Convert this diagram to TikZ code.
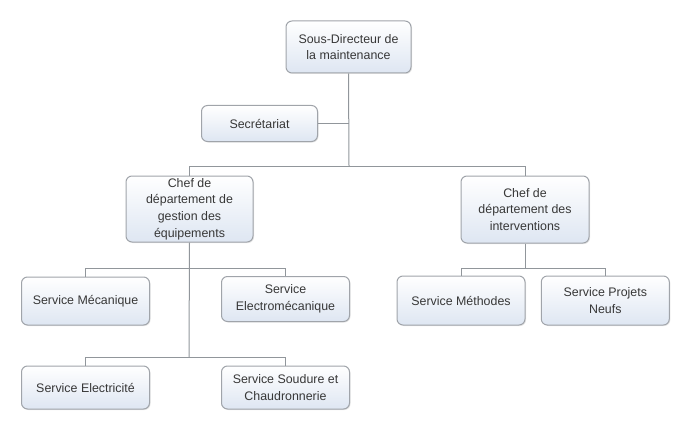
\documentclass[tikz,border=0pt]{standalone}
\usepackage{fontspec}
\setmainfont{Liberation Sans}
\usetikzlibrary{shadows}
\definecolor{boxline}{RGB}{160,164,170}
\definecolor{boxfill}{RGB}{222,230,242}
\definecolor{linkgray}{RGB}{145,150,155}
\definecolor{textgray}{RGB}{55,55,55}
\tikzset{
  orgbox/.style={draw=boxline, line width=1pt, rounded corners=6pt, top color=white,
    bottom color=boxfill, align=center, inner sep=2pt, text=textgray,
    font=\fontsize{12.4}{16.6}\selectfont,
    drop shadow={shadow xshift=1pt, shadow yshift=-1pt, opacity=0.2}},
  link/.style={draw=linkgray, line width=1pt}
}
\begin{document}
\begin{tikzpicture}[x=1pt,y=-1pt]
\useasboundingbox (0,0) rectangle (693,433);

\node[orgbox, minimum width=125pt, minimum height=52pt] (sd) at (348.5,47) {Sous-Directeur de\\la maintenance};
\node[orgbox, minimum width=116pt, minimum height=36pt] (sec) at (259.5,123.5) {Secrétariat};
\node[orgbox, minimum width=127pt, minimum height=66pt] (cg) at (189.5,209) {Chef de\\département de\\gestion des\\équipements};
\node[orgbox, minimum width=128pt, minimum height=67pt] (ci) at (525,209.5) {Chef de\\département des\\interventions};
\node[orgbox, minimum width=128pt, minimum height=48pt] (smec) at (85.5,301) {Service Mécanique};
\node[orgbox, minimum width=128pt, minimum height=45pt] (selm) at (285.5,299) {Service\\Electromécanique};
\node[orgbox, minimum width=128pt, minimum height=43pt] (sel) at (85.5,387.5) {Service Electricité};
\node[orgbox, minimum width=128pt, minimum height=43pt] (ssc) at (285.5,387.5) {Service Soudure et\\Chaudronnerie};
\node[orgbox, minimum width=128pt, minimum height=49pt] (smeth) at (461,300.5) {Service Méthodes};
\node[orgbox, minimum width=128pt, minimum height=49pt] (spn) at (605.3,300.5) {Service Projets\\Neufs};

\coordinate (top) at (349,166);
\coordinate (gtop) at (189,268);
\coordinate (gbot) at (189,357);
\coordinate (itop) at (525,268);

\path[link] (sd.south) -- (top);
\path[link] (sec.east) -- (sec.east -| sd.south);
\path[link] (top) -| (cg.north);
\path[link] (top) -| (ci.north);
\path[link] (cg.south) -- (gbot);
\path[link] (gtop) -| (smec.north);
\path[link] (gtop) -| (selm.north);
\path[link] (gbot) -| (sel.north);
\path[link] (gbot) -| (ssc.north);
\path[link] (ci.south) -- (itop);
\path[link] (itop) -| (smeth.north);
\path[link] (itop) -| (spn.north);
\end{tikzpicture}
\end{document}
